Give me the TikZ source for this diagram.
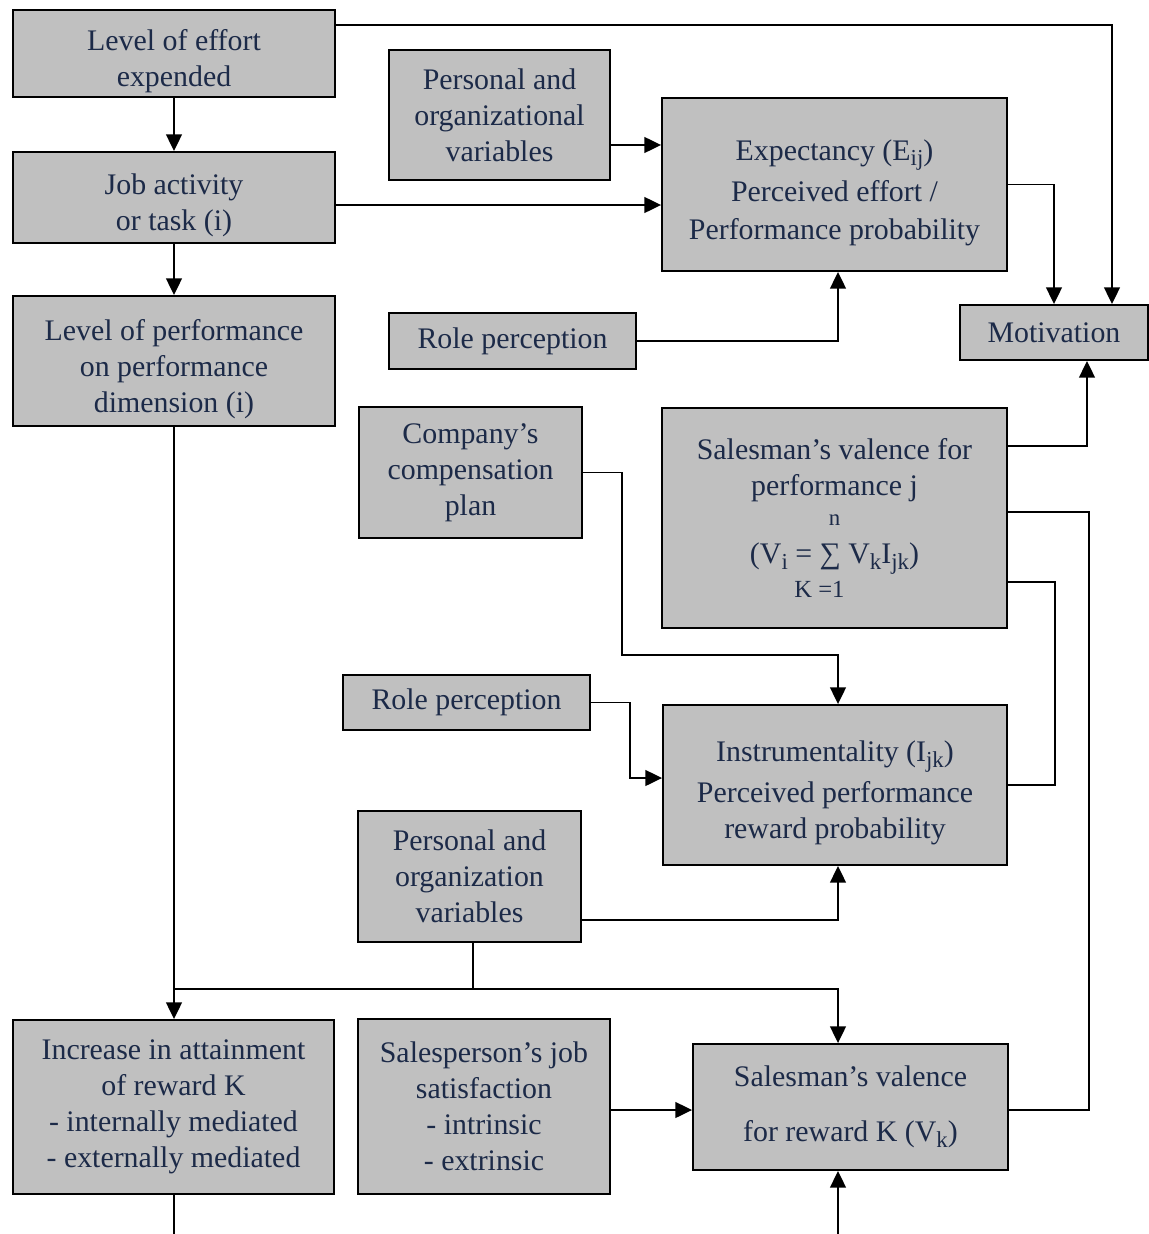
\documentclass[tikz,border=0pt]{standalone}
\usepackage{fontspec}
\setmainfont{Liberation Serif}
\usepackage{tikz}
\usetikzlibrary{arrows.meta,calc,positioning}
\definecolor{boxgray}{RGB}{192,192,192}
\definecolor{navytext}{RGB}{28,42,72}
\newcommand{\lo}[1]{\raisebox{-0.4ex}{\fontsize{13}{13}\selectfont #1}}
\newcommand{\topstrut}{\rule{0pt}{21pt}}
\tikzset{
  box/.style={
    rectangle,
    draw=black,
    fill=boxgray,
    line width=1.1pt,
    align=center,
    inner sep=2pt,
    text=navytext,
    font=\fontsize{17}{20.5}\selectfont
  },
  conn/.style={
    line width=1pt,
    -{Triangle[length=9.5pt,width=9pt]}
  },
  wire/.style={
    line width=1pt
  }
}

\begin{document}
\begin{tikzpicture}[x=0.02cm,y=-0.02cm]
  \useasboundingbox (0,0) rectangle (1149,1234);

  % ------------------------------------------------------------------
  % left column
  % ------------------------------------------------------------------
  \node[box, minimum width=6.44cm, minimum height=1.74cm] (effort) at (174,53.5)
    {\topstrut Level of effort\\expended};
  \node[box, minimum width=6.44cm, minimum height=1.82cm] (job) at (174,197.5)
    {\topstrut Job activity\\or task (i)};
  \node[box, minimum width=6.44cm, minimum height=2.6cm] (perf) at (174,361)
    {\topstrut Level of performance\\on performance\\dimension (i)};
  \node[box, minimum width=6.42cm, minimum height=3.48cm] (increase) at (173.5,1107)
    {Increase in attainment\\of reward K\\- internally mediated\\- externally mediated};

  % ------------------------------------------------------------------
  % middle column
  % ------------------------------------------------------------------
  \node[box, minimum width=4.42cm, minimum height=2.6cm] (persorgA) at (499.5,115)
    {Personal and\\organizational\\variables};
  \node[box, minimum width=4.94cm, minimum height=1.12cm] (roleA) at (512.5,341)
    {Role perception};
  \node[box, minimum width=4.46cm, minimum height=2.62cm] (comp) at (470.5,472.5)
    {Company's\\compensation\\plan};
  \node[box, minimum width=4.94cm, minimum height=1.1cm] (roleB) at (466.5,702.5)
    {Role perception};
  \node[box, minimum width=4.46cm, minimum height=2.62cm] (persorgB) at (469.5,876.5)
    {Personal and\\organization\\variables};
  \node[box, minimum width=5.04cm, minimum height=3.5cm] (satisf) at (484,1106.5)
    {Salesperson's job\\satisfaction\\- intrinsic\\- extrinsic};

  % ------------------------------------------------------------------
  % right column
  % ------------------------------------------------------------------
  \node[box, minimum width=6.9cm, minimum height=3.46cm] (expect) at (834.5,184.5)
    {\topstrut Expectancy (E\lo{ij})\\[3pt]Perceived effort /\\[1pt]Performance probability};
  \node[box, minimum width=3.76cm, minimum height=1.1cm] (motiv) at (1054,332.5)
    {Motivation};
  \node[box, minimum width=6.9cm, minimum height=4.4cm] (valj) at (834.5,518)
    {Salesman's valence for\\performance j\\[-3pt]
     {\fontsize{13}{13}\selectfont n}\\[1pt]
     (V\lo{i} = ∑ V\lo{k}I\lo{jk})\\[-1pt]
     {\fontsize{14}{14}\selectfont\hspace*{-0.6cm}K =1}};
  \node[box, minimum width=6.88cm, minimum height=3.2cm] (instr) at (835,785)
    {\topstrut Instrumentality (I\lo{jk})\\[3pt]Perceived performance\\reward probability};
  \node[box, minimum width=6.3cm, minimum height=2.52cm] (valk) at (850.5,1107)
    {Salesman's valence\\[11pt]for reward K (V\lo{k})};

  % free ends at the lower edge
  \coordinate (incout) at (174,1234);
  \coordinate (valkin) at (838,1234);

  % ------------------------------------------------------------------
  % connectors
  % ------------------------------------------------------------------
  \draw[conn] (effort) -- (job);
  \draw[conn] (job) -- (perf);
  \draw[conn] (perf.south) -- (perf.south |- increase.north);
  \draw[wire] (increase.south -| incout) -- (incout);

  \draw[conn] ([yshift=0.57cm]effort.east) -| ([xshift=1.16cm]motiv.north);
  \draw[conn] ([yshift=-0.15cm]job.east) -- ([yshift=-0.15cm]job.east -| expect.west);
  \draw[conn] ([yshift=-0.6cm]persorgA.east) -- ([yshift=-0.6cm]persorgA.east -| expect.west);
  \draw[conn] (expect.east) -| (motiv.north);
  \draw[conn] (roleA.east) -| ([xshift=0.07cm]expect.south);

  \draw[conn] ([yshift=1.44cm]valj.east) -| ([xshift=0.66cm]motiv.south);
  \draw[wire] ([yshift=0.12cm]valj.east) -- ++(1.62cm,0) |- ([yshift=-0.06cm]valk.east);
  \draw[wire] ([yshift=-1.28cm]valj.east) -- ++(0.94cm,0) |- (instr.east);

  \draw[conn] (comp.east) -- ++(0.78cm,0) |- ([xshift=0.06cm,yshift=0.98cm]instr.north)
    -- ([xshift=0.06cm]instr.north);
  \draw[conn] (roleB.east) -- ++(0.78cm,0) |- ([yshift=0.14cm]instr.west);
  \draw[conn] ([yshift=-0.87cm]persorgB.east) -| ([xshift=0.06cm]instr.south);

  % joining line below the personal variables
  \draw[wire] ([xshift=0.07cm]persorgB.south) -- ++(0,-0.92cm) coordinate (junc);
  \draw[conn] (junc -| perf.south) -| ([xshift=-0.25cm]valk.north);

  \draw[conn] ([yshift=-0.07cm]satisf.east) -- ([yshift=-0.07cm]satisf.east -| valk.west);
  \draw[conn] (valkin) -- (valkin |- valk.south);
\end{tikzpicture}
\end{document}
